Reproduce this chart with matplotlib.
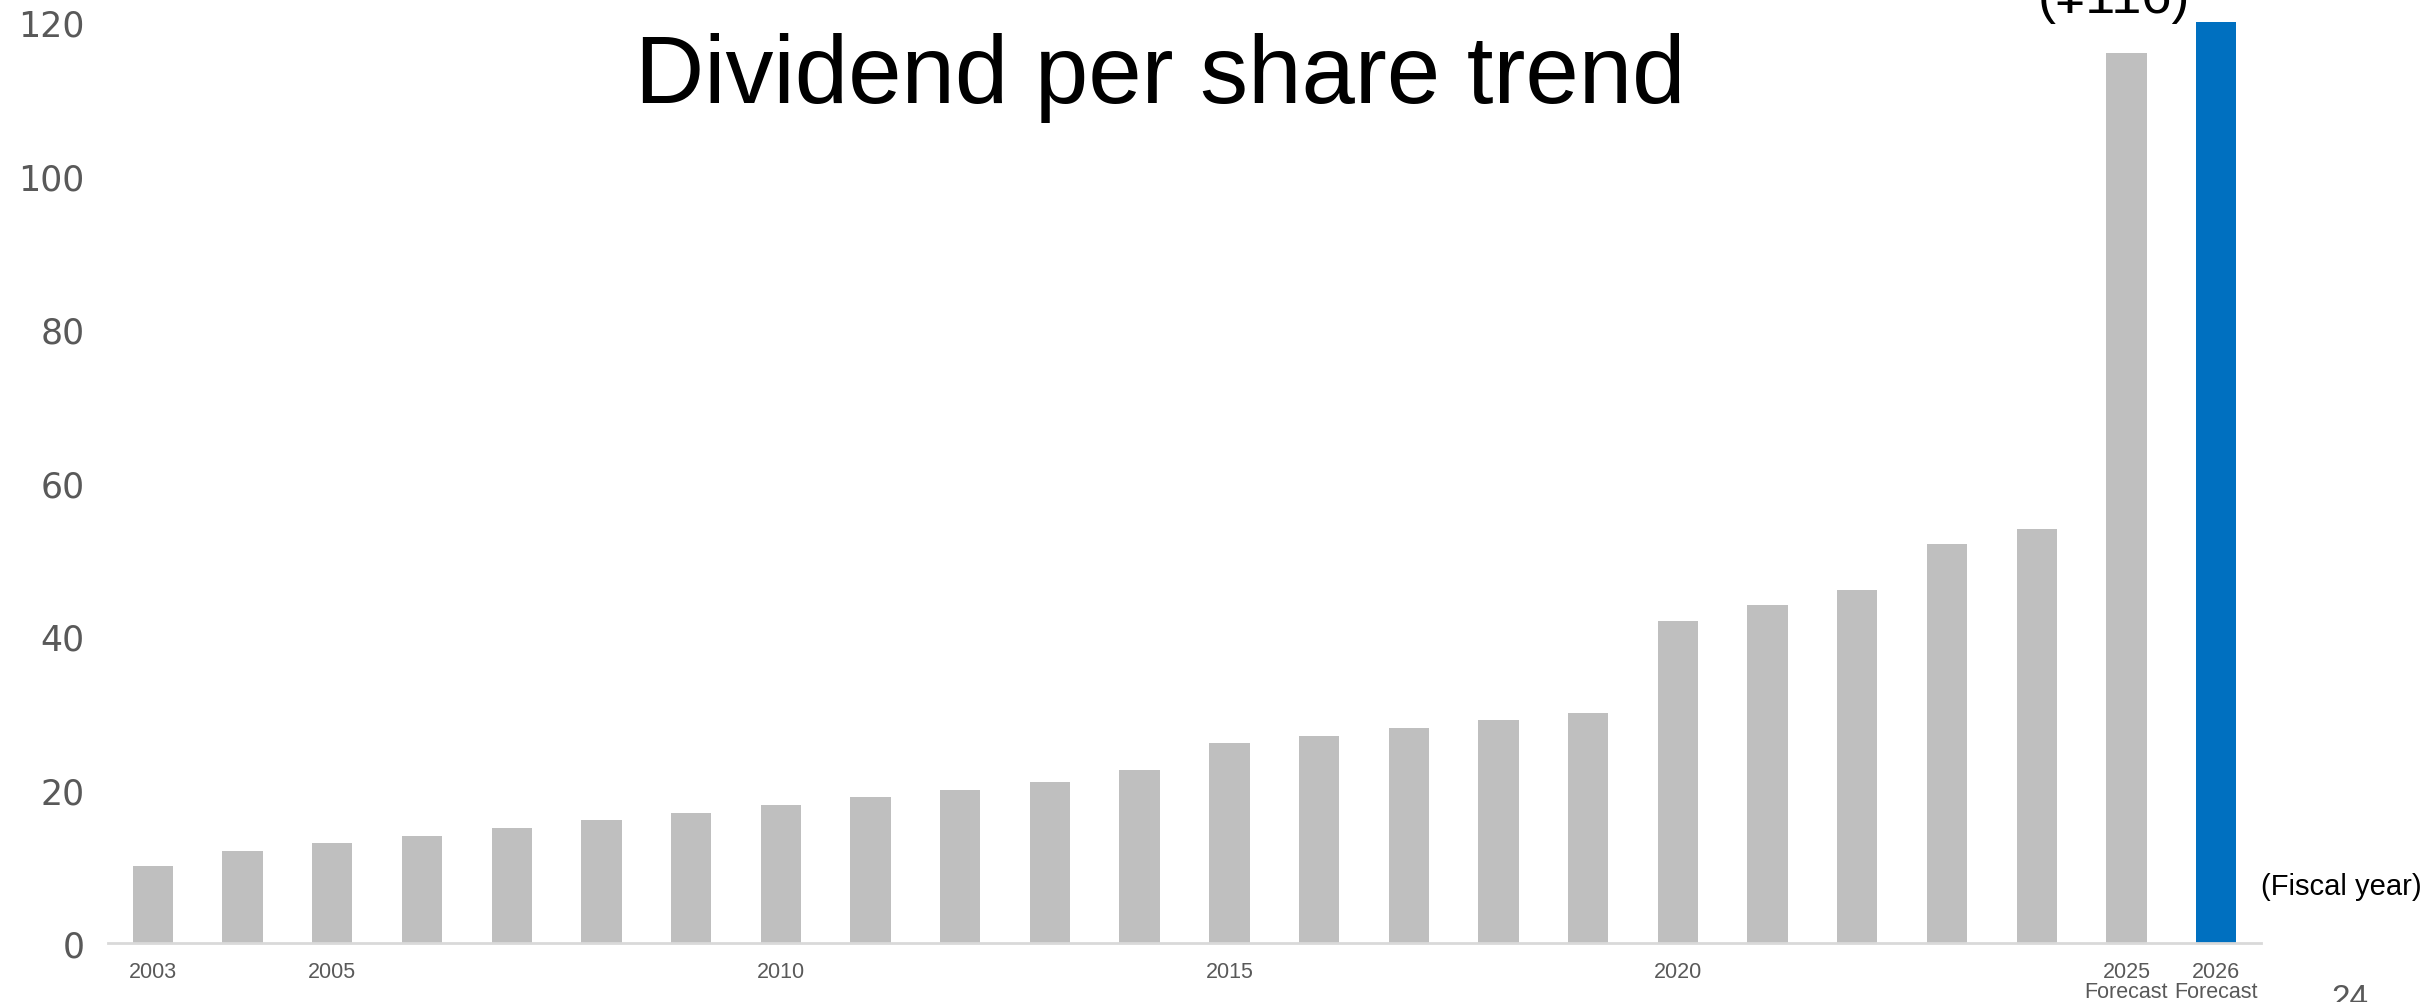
import matplotlib
matplotlib.use("Agg")
import matplotlib.pyplot as plt

years = [str(y) for y in range(2003, 2027)]
dividends = [10, 12, 13, 14, 15, 16, 17, 18, 19, 20, 21, 22.5,
             26, 27, 28, 29, 30, 42, 44, 46, 52, 54, 116, 120]
tick_years = ["2003", "2005", "2010", "2015", "2020", "2025", "2026"]
tick_labels = ["2003", "2005", "2010", "2015", "2020",
               "2025\nForecast", "2026\nForecast"]
y_ticks = [0, 20, 40, 60, 80, 100, 120]

GREY = "#BFBFBF"
BLUE = "#0070C0"
TEXT_GREY = "#595959"

plt.rcParams["font.family"] = ["Liberation Sans", "DejaVu Sans"]

fig = plt.figure(figsize=(24.33, 10.03), dpi=100)
ax = fig.add_axes([0.0444, 0.0588, 0.8849, 0.9182])

x = list(range(len(years)))
colors = [GREY] * (len(years) - 1) + [BLUE]
ax.bar(x, dividends, width=0.45, color=colors)

ax.set_xlim(-0.5, len(years) - 0.5)
ax.set_ylim(0, 120)
ax.set_yticks(y_ticks)
ax.set_yticklabels([str(v) for v in y_ticks], family=["DejaVu Sans"],
                   fontsize=25, color=TEXT_GREY)
ax.set_xticks([years.index(y) for y in tick_years])
ax.set_xticklabels(tick_labels, family=["Liberation Sans Narrow", "Liberation Sans"],
                   fontsize=15.5, color=TEXT_GREY, linespacing=0.95, va="top")
ax.tick_params(axis="both", length=0)
ax.tick_params(axis="y", pad=17)
ax.tick_params(axis="x", pad=13)

for side in ["left", "right", "top"]:
    ax.spines[side].set_visible(False)
ax.spines["bottom"].set_color("#D9D9D9")
ax.spines["bottom"].set_linewidth(2)

fig.text(0.4767, 0.922, "Dividend per share trend", ha="center", va="center",
         fontsize=69, color="black")
fig.text(0.9295, 0.116, "(Fiscal year)", ha="left", va="center",
         fontsize=21, color="black")
fig.text(0.869, 0.987, "(¥116)", ha="center", va="baseline",
         fontsize=39, color="black")
fig.text(0.966, -0.005, "24", ha="center", va="baseline",
         fontsize=24, color=TEXT_GREY)

fig.savefig("out.png", dpi=100)
